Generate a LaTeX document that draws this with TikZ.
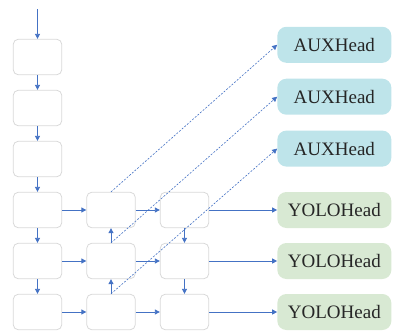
\documentclass[tikz,border=0pt]{standalone}
\usepackage{fontspec}
\setmainfont{Liberation Serif}
\usetikzlibrary{arrows.meta, positioning}
\definecolor{flowBlue}{RGB}{68,114,196}
\definecolor{boxGray}{RGB}{217,217,217}
\definecolor{auxCyan}{RGB}{190,228,234}
\definecolor{yoloGreen}{RGB}{216,233,211}

\begin{document}
\begin{tikzpicture}[
    x=1pt, y=-1pt,
    node distance=14.7pt and 24.2pt,
    block/.style={rectangle, draw=boxGray, line width=0.8pt, rounded corners=5pt, minimum width=48.5pt, minimum height=35.5pt, fill=white},
    head/.style={rectangle, rounded corners=9pt, minimum width=114pt, minimum height=36pt, inner sep=0pt, text=black!85, font=\fontsize{19}{22}\selectfont},
    arrow/.style={-{Triangle[length=5pt,width=5pt]}, flowBlue, line width=0.8pt},
    dasharrow/.style={arrow, line width=0.6pt, dash pattern=on 2pt off 1.5pt}
]
\useasboundingbox (0,0) rectangle (394,330);

% Backbone column
\node[block] (b1) at (37.5,57) {};
\node[block, below=of b1] (b2) {};
\node[block, below=of b2] (b3) {};
\node[block, below=of b3] (b4) {};
\node[block, below=of b4] (b5) {};
\node[block, below=of b5] (b6) {};

% Neck columns
\node[block, right=of b4] (n4) {};
\node[block, right=of b5] (n5) {};
\node[block, right=of b6] (n6) {};
\node[block, right=of n4] (p4) {};
\node[block, right=of n5] (p5) {};
\node[block, right=of n6] (p6) {};

% Heads
\node[head, fill=yoloGreen, right=68pt of p4] (y4) {YOLOHead};
\node[head, fill=yoloGreen, right=68pt of p5] (y5) {YOLOHead};
\node[head, fill=yoloGreen, right=68pt of p6] (y6) {YOLOHead};
\node[head, fill=auxCyan, above=25pt of y4] (a3) {AUXHead};
\node[head, fill=auxCyan, above=15.5pt of a3] (a2) {AUXHead};
\node[head, fill=auxCyan, above=15.5pt of a2] (a1) {AUXHead};

% Arrows
\coordinate (in) at (37.5,9);
\draw[arrow] (in) -- (b1);
\draw[arrow] (b1) -- (b2);
\draw[arrow] (b2) -- (b3);
\draw[arrow] (b3) -- (b4);
\draw[arrow] (b4) -- (b5);
\draw[arrow] (b5) -- (b6);
\draw[arrow] (b4) -- (n4);
\draw[arrow] (b5) -- (n5);
\draw[arrow] (b6) -- (n6);
\draw[arrow] (n5) -- (n4);
\draw[arrow] (n6) -- (n5);
\draw[arrow] (n4) -- (p4);
\draw[arrow] (n5) -- (p5);
\draw[arrow] (n6) -- (p6);
\draw[arrow] (p4) -- (p5);
\draw[arrow] (p5) -- (p6);
\draw[arrow] (p4) -- (y4);
\draw[arrow] (p5) -- (y5);
\draw[arrow] (p6) -- (y6);

% Auxiliary branches
\draw[dasharrow] (n4.north) -- (a1.west);
\draw[dasharrow] (n5.north) -- (a2.west);
\draw[dasharrow] (n6.north) -- (a3.west);

\end{tikzpicture}
\end{document}
